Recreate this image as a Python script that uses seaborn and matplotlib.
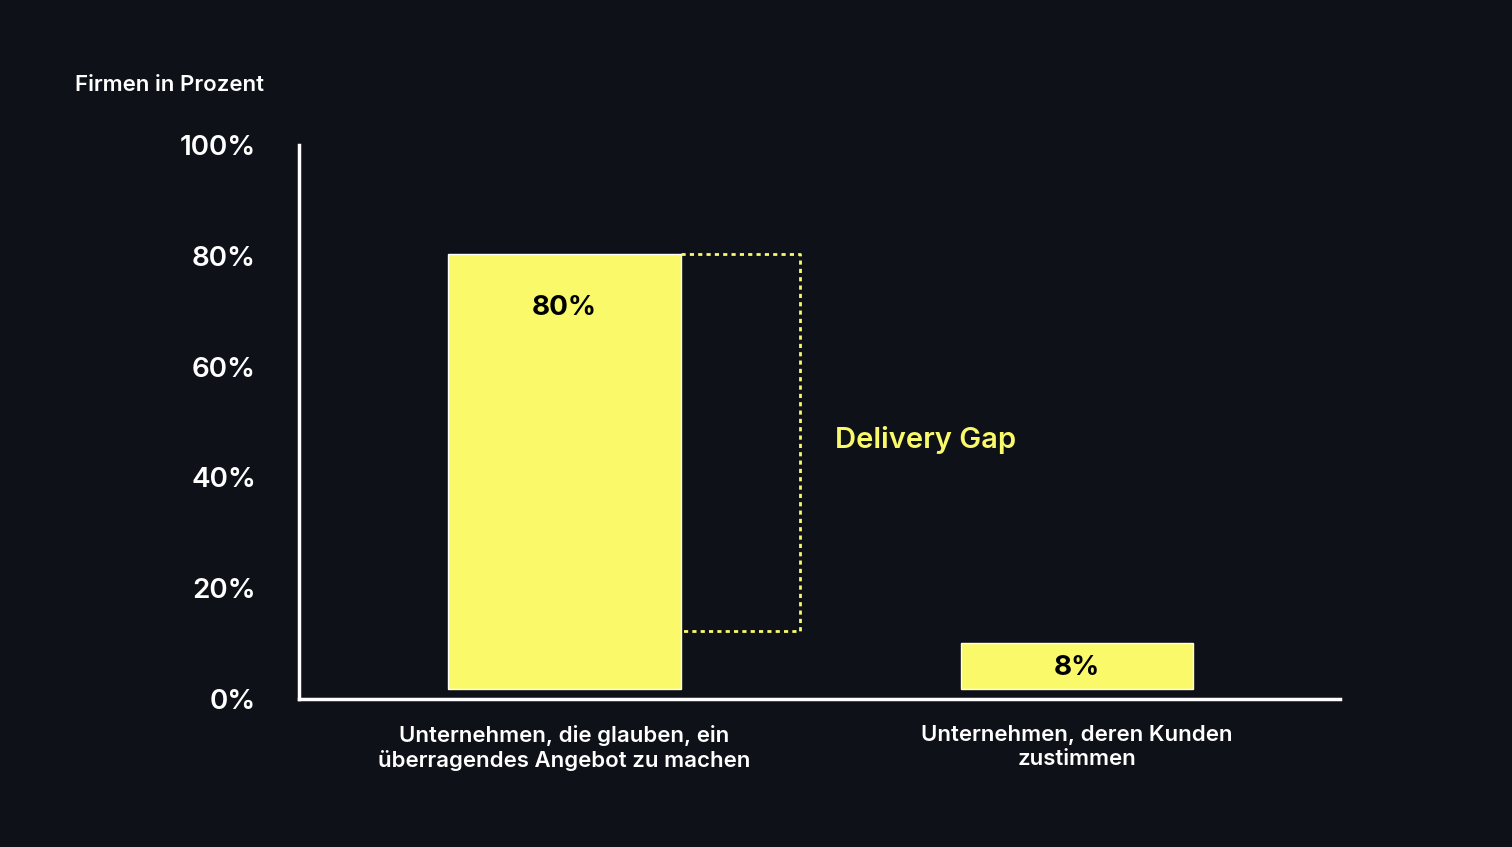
import matplotlib.pyplot as plt
import seaborn as sns
import pandas as pd

# data
categories = ["Unternehmen, die glauben, ein\nüberragendes Angebot zu machen",
              "Unternehmen, deren Kunden\nzustimmen"]
bar_tops = [80.3, 10.1]          # sichtbare Balkenoberkante in %
bar_labels = ["80%", "8%"]
bar_bottom = 1.8
yticks = [0, 20, 40, 60, 80, 100]
gap_low = 12.3

bg = "#0e1118"
yellow = "#f9f96a"

sns.set_theme(style="dark")
plt.rcParams['font.family'] = ['Inter', 'DejaVu Sans']

fig = plt.figure(figsize=(15.12, 8.47), dpi=100, facecolor=bg)
ax = fig.add_axes([0.1978, 0.1747, 0.8862 - 0.1978, 0.8288 - 0.1747])
ax.set_facecolor(bg)

df = pd.DataFrame({"cat": categories, "h": [t - bar_bottom for t in bar_tops]})
sns.barplot(data=df, x="cat", y="h", color=yellow, saturation=1, width=0.454,
            bottom=bar_bottom, ax=ax)

ax.set_xlim(-0.517, 1.513)
ax.set_ylim(0, 100)
ax.set_yticks(yticks)
ax.set_yticklabels([f"{v}%" for v in yticks], color="white", fontsize=20, fontweight="semibold")
ax.tick_params(axis="y", length=0, pad=31)
ax.tick_params(axis="x", length=0, pad=19, labelsize=16, labelcolor="white")
for lab in ax.get_xticklabels():
    lab.set_fontweight("semibold")
ax.set_xlabel("")
ax.set_ylabel("")
ax.grid(False)
for s in ["top", "right"]:
    ax.spines[s].set_visible(False)
for s in ["left", "bottom"]:
    ax.spines[s].set_visible(True)
    ax.spines[s].set_color("white")
    ax.spines[s].set_linewidth(2.5)

# bar value labels
ax.text(0, 70.5, bar_labels[0], ha="center", va="center", fontsize=20, fontweight="bold", color="black")
ax.text(1, 5.6, bar_labels[1], ha="center", va="center", fontsize=20, fontweight="bold", color="black")

# delivery gap bracket
x0, x1 = 0.227, 0.46
top = bar_tops[0]
ax.plot([x0, x1, x1, x0], [top, top, gap_low, gap_low], color=yellow,
        linestyle=(0, (1.5, 1.5)), linewidth=2)
ax.text(0.528, 46.7, "Delivery Gap", ha="left", va="center", fontsize=21,
        fontweight="semibold", color=yellow)

fig.text(75 / 1512, 1 - 85 / 847, "Firmen in Prozent", ha="left", va="center",
         fontsize=16, fontweight="semibold", color="white")

fig.savefig("out.png", dpi=100, facecolor=bg)
